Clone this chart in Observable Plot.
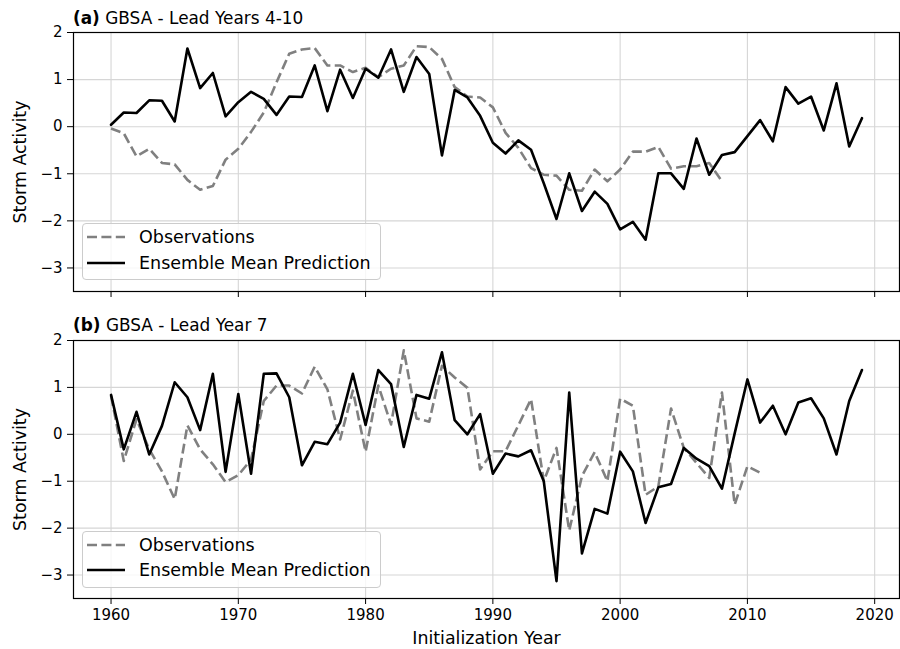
<!DOCTYPE html>
<html>
<head>
<meta charset="utf-8">
<script src="https://cdn.jsdelivr.net/npm/d3@7"></script>
<script src="https://cdn.jsdelivr.net/npm/@observablehq/plot@0.6"></script>
<style>
  html, body { margin: 0; padding: 0; background: #fff; }
  #fig { position: relative; width: 900px; height: 649px; font-family: "DejaVu Sans", sans-serif; color: #000; }
  .chart { position: absolute; left: 0; }
  .title { position: absolute; left: 73px; font-size: 16.9px; line-height: 16.9px; white-space: nowrap; }
  .legend { position: absolute; left: 81.5px; width: 297px; height: 55px; border: 1px solid #cccccc; border-radius: 4px; background: rgba(255,255,255,0.8); font-size: 17.5px; }
  .legend .row { position: absolute; left: 0; height: 20px; width: 100%; }
  .legend svg { position: absolute; left: 4.8px; top: 0; }
  .legend span { position: absolute; left: 56.5px; top: 0; line-height: 20px; white-space: nowrap; }
</style>
</head>
<body>
<div id="fig"></div>
<script>
// ---- data ----
const predYears = d3.range(1960, 2020);
const obsYearsA = d3.range(1960, 2009);
const obsYearsB = d3.range(1960, 2012);

const ensembleA = [0.04, 0.30, 0.29, 0.56, 0.55, 0.11, 1.66, 0.82, 1.14, 0.22,
  0.52, 0.74, 0.59, 0.25, 0.64, 0.63, 1.30, 0.33, 1.21, 0.61,
  1.23, 1.04, 1.64, 0.74, 1.48, 1.12, -0.61, 0.78, 0.62, 0.23,
  -0.34, -0.57, -0.29, -0.49, -1.20, -1.96, -0.99, -1.79, -1.38, -1.64,
  -2.18, -2.02, -2.40, -0.99, -0.99, -1.32, -0.25, -1.02, -0.60, -0.54,
  -0.20, 0.14, -0.31, 0.84, 0.49, 0.64, -0.08, 0.92, -0.42, 0.18];

const observationsA = [-0.04, -0.14, -0.63, -0.47, -0.77, -0.80, -1.13, -1.34, -1.26, -0.70,
  -0.47, -0.11, 0.30, 0.94, 1.55, 1.64, 1.67, 1.30, 1.30, 1.16,
  1.25, 1.05, 1.23, 1.30, 1.71, 1.69, 1.44, 0.84, 0.64, 0.62,
  0.41, -0.13, -0.45, -0.88, -1.02, -1.04, -1.34, -1.36, -0.91, -1.16,
  -0.91, -0.53, -0.53, -0.43, -0.89, -0.84, -0.84, -0.77, -1.16];

const ensembleB = [0.84, -0.32, 0.48, -0.43, 0.18, 1.11, 0.79, 0.09, 1.29, -0.80,
  0.86, -0.84, 1.29, 1.30, 0.79, -0.66, -0.16, -0.21, 0.25, 1.29,
  0.20, 1.37, 1.07, -0.27, 0.84, 0.76, 1.75, 0.30, 0.00, 0.43,
  -0.84, -0.41, -0.47, -0.34, -1.00, -3.13, 0.89, -2.54, -1.59, -1.69,
  -0.37, -0.79, -1.89, -1.13, -1.06, -0.29, -0.52, -0.68, -1.16, 0.02,
  1.17, 0.25, 0.61, 0.00, 0.68, 0.77, 0.34, -0.43, 0.71, 1.37];

const observationsB = [0.82, -0.57, 0.32, -0.32, -0.79, -1.38, 0.19, -0.32, -0.64, -1.02,
  -0.87, -0.54, 0.71, 1.04, 1.04, 0.87, 1.44, 0.96, -0.11, 0.93,
  -0.37, 1.04, 0.21, 1.79, 0.34, 0.27, 1.46, 1.21, 0.99, -0.75,
  -0.36, -0.36, 0.19, 0.75, -1.00, -0.29, -2.05, -0.89, -0.38, -1.00,
  0.76, 0.61, -1.29, -1.11, 0.55, -0.29, -0.61, -0.93, 0.89, -1.50,
  -0.68, -0.82];

const xTicks = [1960, 1970, 1980, 1990, 2000, 2010, 2020];
const yTicks = [-3, -2, -1, 0, 1, 2];
const seriesLabels = ["Observations", "Ensemble Mean Prediction"];
const panelTitles = [["(a)", " GBSA - Lead Years 4-10"], ["(b)", " GBSA - Lead Year 7"]];
const yLabel = "Storm Activity";
const xLabel = "Initialization Year";

// ---- helpers ----
const toRows = (years, vals) => vals.map((v, i) => ({year: years[i], value: v}));
const fmtY = d => d < 0 ? "\u2212" + Math.abs(d) : String(d);
const gridColor = "#d6d6d6";
const tickFont = 15;
const labelFont = 17.4;

function panel({obs, obsYears, ens, height, marginTop, marginBottom, showXLabels}) {
  const marks = [
    Plot.gridX(xTicks, {stroke: gridColor, strokeOpacity: 1, strokeWidth: 1.1}),
    Plot.gridY(yTicks, {stroke: gridColor, strokeOpacity: 1, strokeWidth: 1.1}),
    Plot.line(toRows(obsYears, obs), {x: "year", y: "value", stroke: "#808080", strokeWidth: 2.6, strokeDasharray: "10,4.4", strokeLinejoin: "round", strokeLinecap: "butt"}),
    Plot.line(toRows(predYears, ens), {x: "year", y: "value", stroke: "#000", strokeWidth: 2.6, strokeLinejoin: "round"}),
    Plot.frame({stroke: "#000", strokeWidth: 1.2}),
    Plot.axisX(xTicks, {tickSize: 6, tickPadding: 5, tickFormat: showXLabels ? (d => String(d)) : (() => ""), label: null, fontSize: tickFont}),
    Plot.axisY(yTicks, {tickSize: 6, tickPadding: 5, tickFormat: fmtY, label: null, fontSize: tickFont}),
    Plot.text([yLabel], {frameAnchor: "left", dx: -53, rotate: -90, fontSize: labelFont, textAnchor: "middle", lineAnchor: "middle"})
  ];
  if (showXLabels) {
    marks.push(Plot.text([xLabel], {frameAnchor: "bottom", dy: 40, lineAnchor: "middle", fontSize: labelFont}));
  }
  return Plot.plot({
    width: 900, height, marginTop, marginBottom, marginLeft: 73, marginRight: 1,
    x: {domain: [1957.05, 2021.95]},
    y: {domain: [-3.5, 2]},
    style: {fontFamily: "DejaVu Sans", fontSize: tickFont + "px", background: "transparent", color: "#000"},
    marks
  });
}

const fig = document.getElementById("fig");

function addPanel(top, opts, titleIdx, legendTop, titleTop) {
  const chart = panel(opts);
  chart.classList.add("chart");
  chart.style.top = top + "px";
  fig.appendChild(chart);

  const t = document.createElement("div");
  t.className = "title";
  t.style.top = titleTop + "px";
  const b = document.createElement("b");
  b.textContent = panelTitles[titleIdx][0];
  t.appendChild(b);
  t.appendChild(document.createTextNode(panelTitles[titleIdx][1]));
  fig.appendChild(t);

  const lg = document.createElement("div");
  lg.className = "legend";
  lg.style.top = legendTop + "px";
  const styles = [
    {stroke: "#808080", dash: "10,4.4"},
    {stroke: "#000", dash: null}
  ];
  seriesLabels.forEach((lab, i) => {
    const row = document.createElement("div");
    row.className = "row";
    row.style.top = (3.2 + i * 25.7) + "px";
    const svg = d3.create("svg").attr("width", 40).attr("height", 20);
    svg.append("line").attr("x1", 0).attr("x2", 38).attr("y1", 10).attr("y2", 10)
      .attr("stroke", styles[i].stroke).attr("stroke-width", 2.6)
      .attr("stroke-dasharray", styles[i].dash);
    row.appendChild(svg.node());
    const sp = document.createElement("span");
    sp.textContent = lab;
    row.appendChild(sp);
    lg.appendChild(row);
  });
  fig.appendChild(lg);
}

addPanel(0, {obs: observationsA, obsYears: obsYearsA, ens: ensembleA, height: 300, marginTop: 32, marginBottom: 9, showXLabels: false}, 0, 223, 9.7);
addPanel(300, {obs: observationsB, obsYears: obsYearsB, ens: ensembleB, height: 349, marginTop: 40, marginBottom: 51, showXLabels: true}, 1, 530.5, 317.4);
</script>
</body>
</html>
